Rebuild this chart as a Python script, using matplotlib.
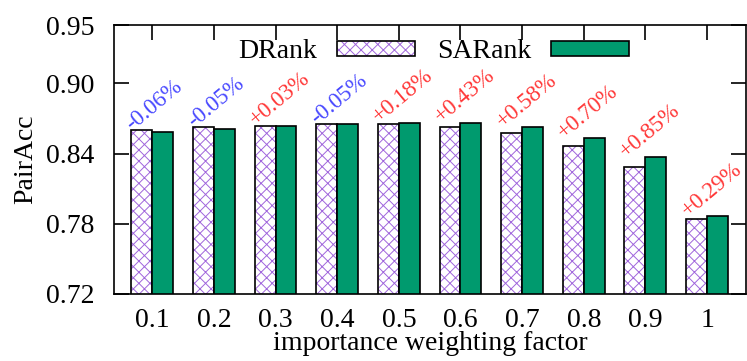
import numpy as np
import matplotlib.pyplot as plt
from matplotlib.patches import Patch
from matplotlib.legend_handler import HandlerTuple

# importance weighting factor sweep
factors = ['0.1', '0.2', '0.3', '0.4', '0.5', '0.6', '0.7', '0.8', '0.9', '1']
drank = [0.8599, 0.8627, 0.8639, 0.8653, 0.8653, 0.8627, 0.8573, 0.8465, 0.8288, 0.7838]
sarank = [0.8585, 0.8613, 0.8639, 0.8653, 0.8664, 0.8664, 0.8625, 0.8533, 0.8368, 0.7867]
gains = ['-0.06%', '-0.05%', '+0.03%', '-0.05%', '+0.18%', '+0.43%', '+0.58%', '+0.70%', '+0.85%', '+0.29%']

plt.rcParams['font.family'] = 'Liberation Serif'
plt.rcParams['hatch.linewidth'] = 0.7

fig = plt.figure(figsize=(7.47, 3.61), dpi=100)
ax = fig.add_axes([0.1526, 0.1856, 0.846, 0.7451])

x = np.arange(len(factors))
w = 0.34
green = '#009a6e'
purple = '#a066dc'

# hatched bars: hatch in purple, outline drawn separately in black
ax.bar(x - w/2, drank, w, color='white', edgecolor=purple, hatch='xxx', linewidth=0)
ax.bar(x - w/2, drank, w, fill=False, edgecolor='black', linewidth=1.2)
ax.bar(x + w/2, sarank, w, color=green, edgecolor='black', linewidth=1.2)

for i, g in enumerate(gains):
    col = '#4848ff' if g.startswith('-') else '#ff3838'
    top = max(drank[i], sarank[i])
    ax.text(i - w + 0.02, top - 0.0005, g, rotation=40, rotation_mode='anchor',
            ha='left', va='baseline', color=col, fontsize=16.5)

# legend swatches built from proxy patches
h1 = (Patch(facecolor='white', edgecolor=purple, hatch='xxx', linewidth=0),
      Patch(fill=False, edgecolor='black', linewidth=1.2))
h2 = Patch(facecolor=green, edgecolor='black', linewidth=1.2)
ax.legend([h1, h2], ['DRank', 'SARank'], ncol=2, loc='center', bbox_to_anchor=(0.506, 0.9),
          frameon=False, markerfirst=False, fontsize=20, handlelength=2.8, handleheight=0.43,
          handletextpad=0.7, columnspacing=0.83, borderpad=0,
          handler_map={tuple: HandlerTuple(ndivide=1, pad=0)})

ax.set_xlim(-0.62, 9.63)
ax.set_ylim(0.72, 0.95)
ax.set_yticks([0.72, 0.78, 0.84, 0.90, 0.95])
ax.set_yticklabels(['0.72', '0.78', '0.84', '0.90', '0.95'])
ax.set_xticks(x)
ax.set_xticklabels(factors)
ax.tick_params(direction='in', length=11, width=1.2, labelsize=20, top=True, right=True)
ax.tick_params(axis='y', pad=14)
ax.tick_params(axis='x', bottom=False, pad=10)
for s in ax.spines.values():
    s.set_linewidth(1.2)

ax.set_ylabel('PairAcc', fontsize=20, labelpad=6)
ax.set_xlabel('importance weighting factor', fontsize=20, labelpad=-1)

fig.savefig('out.png', dpi=100)
